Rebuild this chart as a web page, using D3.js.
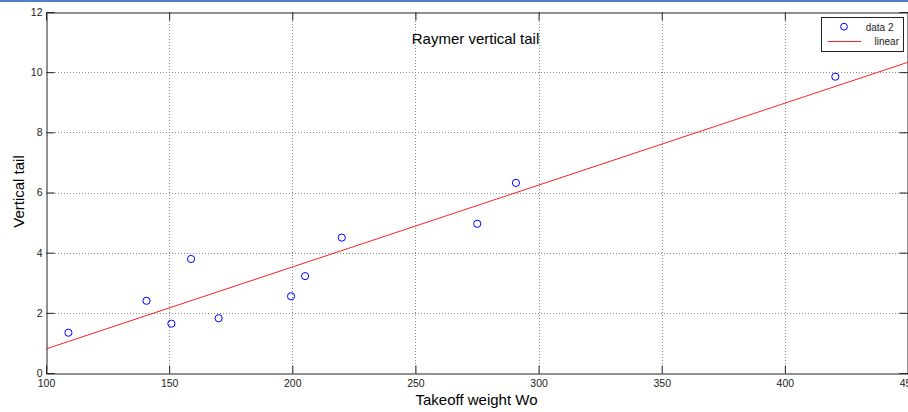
<!DOCTYPE html>
<html>
<head>
<meta charset="utf-8">
<script src="https://cdn.jsdelivr.net/npm/d3@7"></script>
<style>
  html, body { margin: 0; padding: 0; background: #fff; }
  svg { display: block; }
  text { font-family: Arial, "Liberation Sans", Helvetica, sans-serif; }
</style>
</head>
<body>
<svg id="chart" width="908" height="412"></svg>
<script>
// ---- data ----
const dataX = [109.1, 140.8, 150.9, 158.9, 170.1, 199.5, 205.2, 220.1, 275.1, 290.8, 420.5];
const dataY = [1.34, 2.40, 1.64, 3.79, 1.82, 2.55, 3.22, 4.50, 4.96, 6.32, 9.85];
const linearX = [100, 450];
const linearY = [0.80, 10.33];
const xTicks = [100, 150, 200, 250, 300, 350, 400, 450];
const yTicks = [0, 2, 4, 6, 8, 10, 12];
const legendLabels = ["data 2", "linear"];
const titleText = "Raymer vertical tail";
const xLabel = "Takeoff weight Wo";
const yLabel = "Vertical tail";

const svg = d3.select("#chart");
const W = 908, H = 412;
const L = 46, R = 908, T = 12, B = 373;

const x = d3.scaleLinear().domain([100, 450]).range([L, R]);
const y = d3.scaleLinear().domain([0, 12]).range([B, T]);

// top window border
svg.append("rect").attr("x", 0).attr("y", 0).attr("width", W).attr("height", 2).attr("fill", "#4f7fc0");

svg.append("defs").append("clipPath").attr("id", "clip")
  .append("rect").attr("x", L).attr("y", T).attr("width", R - L).attr("height", B - T);

// grid
const grid = svg.append("g").attr("stroke", "#8c8c8c").attr("stroke-width", 1).attr("stroke-dasharray", "1,2");
xTicks.filter(v => v > 100 && v < 450).forEach(v => {
  grid.append("line").attr("x1", Math.round(x(v)) + 0.5).attr("x2", Math.round(x(v)) + 0.5)
    .attr("y1", T).attr("y2", B);
});
yTicks.filter(v => v > 0 && v < 12).forEach(v => {
  grid.append("line").attr("y1", Math.round(y(v)) + 0.5).attr("y2", Math.round(y(v)) + 0.5)
    .attr("x1", L).attr("x2", R);
});

// axes with D3
const tickLen = 8;
const gx = svg.append("g").attr("transform", `translate(0,${B + 0.5})`)
  .call(d3.axisBottom(x).tickValues(xTicks).tickSize(-tickLen).tickPadding(6).tickFormat(d3.format("d")));
const gy = svg.append("g").attr("transform", `translate(${L + 0.5},0)`)
  .call(d3.axisLeft(y).tickValues(yTicks).tickSize(-tickLen).tickPadding(4).tickFormat(d3.format("d")));
const gxt = svg.append("g").attr("transform", `translate(0,${T + 0.5})`)
  .call(d3.axisTop(x).tickValues(xTicks).tickSize(-tickLen).tickFormat(""));
const gyr = svg.append("g").attr("transform", `translate(${R - 0.5},0)`)
  .call(d3.axisRight(y).tickValues(yTicks).tickSize(-tickLen).tickFormat(""));
[gx, gy, gxt, gyr].forEach(g => {
  g.select(".domain").attr("stroke", "#222");
  g.selectAll(".tick line").attr("stroke", "#222");
  g.selectAll("text").attr("fill", "#222").style("font-size", "10.5px")
    .style("font-family", "Arial, 'Liberation Sans', sans-serif");
});
gx.selectAll(".tick text").attr("dy", "0.71em");

// fit line
const lineGen = d3.line().x((d, i) => x(linearX[i])).y((d, i) => y(linearY[i]));
svg.append("path").datum(linearX).attr("clip-path", "url(#clip)")
  .attr("d", lineGen).attr("fill", "none").attr("stroke", "#ff2020").attr("stroke-width", 1);

// data points
svg.append("g").selectAll("circle").data(dataX).join("circle")
  .attr("cx", (d) => x(d)).attr("cy", (d, i) => y(dataY[i])).attr("r", 3.6)
  .attr("fill", "none").attr("stroke", "#0000ff").attr("stroke-width", 1);

// title and labels
svg.append("text").attr("x", 475.5).attr("y", 44).attr("text-anchor", "middle")
  .style("font-size", "15px").attr("fill", "#000").text(titleText);
svg.append("text").attr("x", 476.5).attr("y", 405).attr("text-anchor", "middle")
  .style("font-size", "15px").attr("fill", "#000").text(xLabel);
svg.append("text").attr("transform", "translate(23.5,191.5) rotate(-90)").attr("text-anchor", "middle")
  .style("font-size", "15px").attr("fill", "#000").text(yLabel);

// legend
const lg = svg.append("g");
lg.append("rect").attr("x", 821.5).attr("y", 17.5).attr("width", 82).attr("height", 34)
  .attr("fill", "#fff").attr("stroke", "#222").attr("stroke-width", 1);
lg.append("circle").attr("cx", 844).attr("cy", 26.7).attr("r", 3.4)
  .attr("fill", "none").attr("stroke", "#0000ff").attr("stroke-width", 1);
lg.append("line").attr("x1", 828).attr("x2", 861).attr("y1", 41.5).attr("y2", 41.5)
  .attr("stroke", "#ff2020").attr("stroke-width", 1.2);
lg.append("text").attr("x", 893.5).attr("y", 30.5).attr("text-anchor", "end")
  .style("font-size", "10px").attr("fill", "#222").text(legendLabels[0]);
lg.append("text").attr("x", 899).attr("y", 45).attr("text-anchor", "end")
  .style("font-size", "10px").attr("fill", "#222").text(legendLabels[1]);
</script>
</body>
</html>
